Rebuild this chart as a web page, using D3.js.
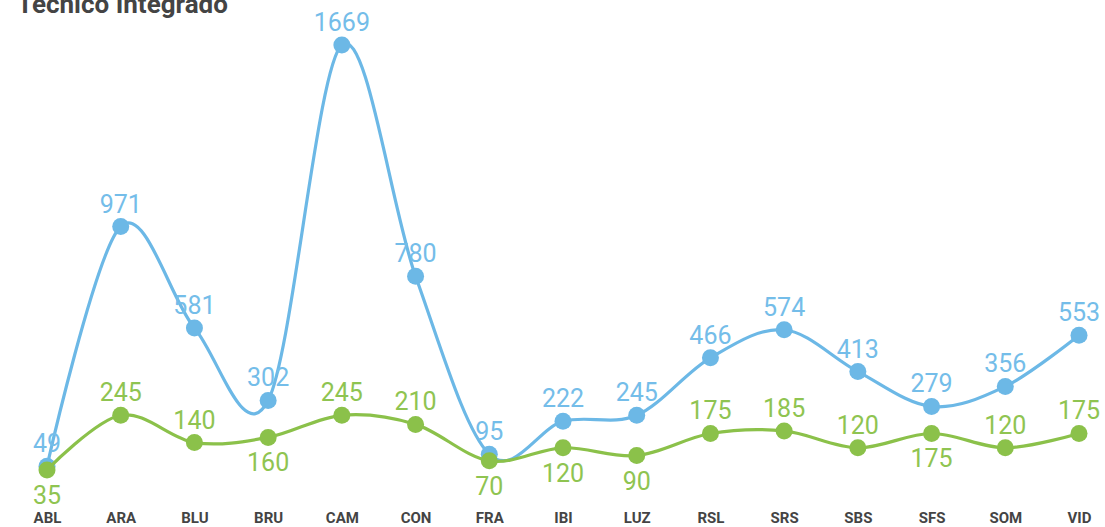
<!DOCTYPE html>
<html>
<head>
<meta charset="utf-8">
<script src="https://cdn.jsdelivr.net/npm/d3@7"></script>
<style>
  body { margin: 0; background: #fff; }
  text { font-family: Roboto, "Noto Sans", sans-serif; }
</style>
</head>
<body>
<script>
const categories = ['ABL', 'ARA', 'BLU', 'BRU', 'CAM', 'CON', 'FRA', 'IBI', 'LUZ', 'RSL', 'SRS', 'SBS', 'SFS', 'SOM', 'VID'];
const blueValues = [49, 971, 581, 302, 1669, 780, 95, 222, 245, 466, 574, 413, 279, 356, 553];
const greenValues = [35, 245, 140, 160, 245, 210, 70, 120, 90, 175, 185, 120, 175, 120, 175];

const width = 1105, height = 527;

const svg = d3.select('body').append('svg')
  .attr('width', width)
  .attr('height', height);

const x = d3.scalePoint()
  .domain(categories)
  .range([47, 1079]);

const y = d3.scaleLinear()
  .domain([0, 1669])
  .range([479, 45]);

// titulo (cortado no topo, como no original)
svg.append('text')
  .attr('x', 17)
  .attr('y', 13)
  .attr('font-size', 26)
  .attr('font-weight', 'bold')
  .attr('fill', '#444')
  .text('Técnico Integrado');

// eixo x
const xAxis = svg.append('g')
  .attr('transform', 'translate(0,' + 523 + ')')
  .call(d3.axisBottom(x).tickSize(0).tickPadding(0));
xAxis.select('.domain').remove();
xAxis.selectAll('text')
  .attr('dy', 0)
  .attr('font-size', 15)
  .attr('font-weight', 'bold')
  .attr('fill', '#444')
  .style('font-family', 'Roboto, sans-serif');

const line = d3.line()
  .x((d, i) => x(categories[i]))
  .y(d => y(d))
  .curve(d3.curveCardinal.tension(0));

function drawSeries(values, color, labelColor, below) {
  svg.append('path')
    .datum(values)
    .attr('d', line)
    .attr('fill', 'none')
    .attr('stroke', color)
    .attr('stroke-width', 3.2);

  svg.append('g').selectAll('circle')
    .data(values).enter()
    .append('circle')
    .attr('cx', (d, i) => x(categories[i]))
    .attr('cy', d => y(d))
    .attr('r', 8.5)
    .attr('fill', color);

  svg.append('g').selectAll('text')
    .data(values).enter()
    .append('text')
    .attr('x', (d, i) => x(categories[i]))
    .attr('y', (d, i) => below(i) ? y(d) + 34 : y(d) - 14)
    .attr('text-anchor', 'middle')
    .attr('font-size', 25)
    .attr('fill', labelColor)
    .text(d => d);
}

drawSeries(blueValues, '#6cb8e6', '#74bde9', () => false);
// rotulo verde vai para baixo quando a serie azul esta perto
drawSeries(greenValues, '#8bc14a', '#8fc451', i => blueValues[i] - greenValues[i] < 200);
</script>
</body>
</html>
